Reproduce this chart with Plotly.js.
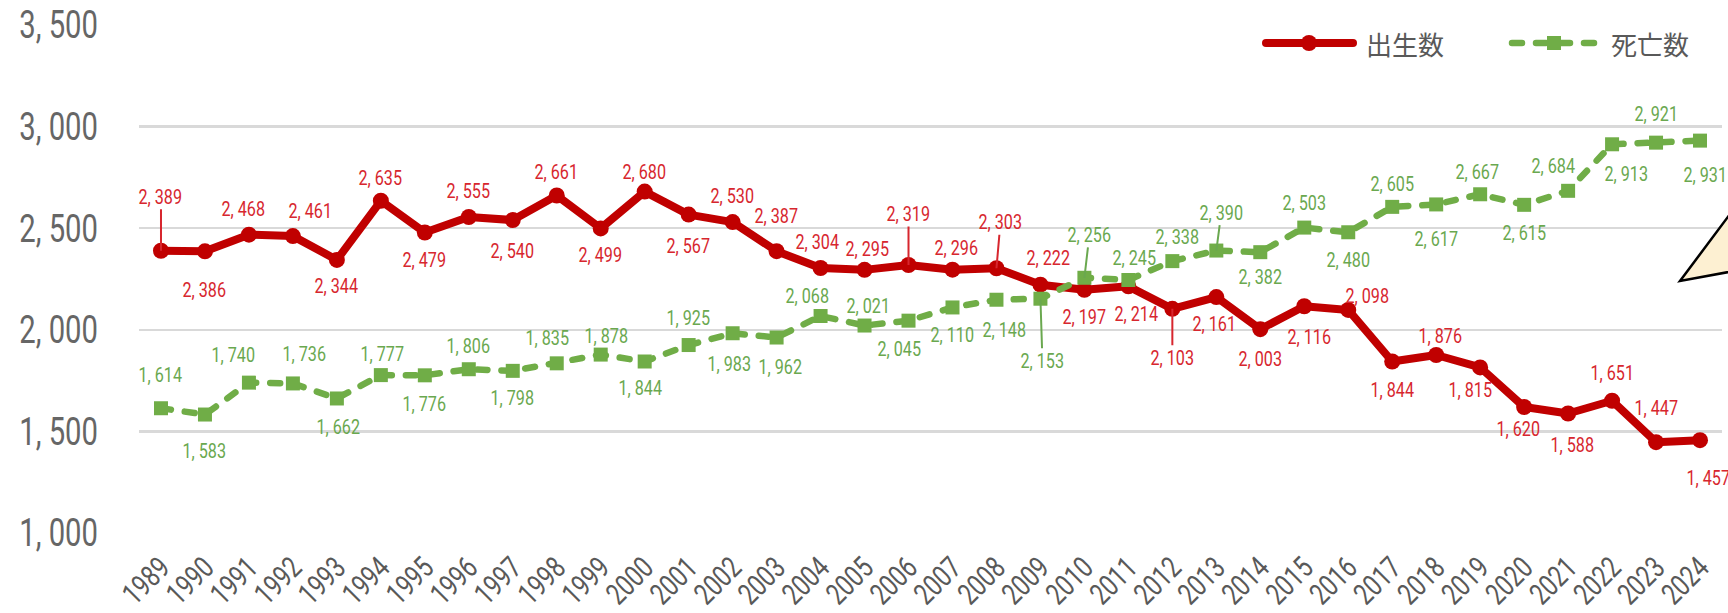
<!DOCTYPE html>
<html>
<head>
<meta charset="utf-8">
<script src="https://cdn.plot.ly/plotly-3.0.1.min.js"></script>
<style>
  html, body { margin: 0; padding: 0; background: #ffffff; }
  #chart { width: 1728px; height: 613px; }
  #chart .scatterlayer path.js-line { stroke-linejoin: round; stroke-linecap: round; }
  #chart .shapelayer path { stroke-linecap: round; }
</style>
</head>
<body>
<div id="chart"></div>
<script>
// ---- data ----
const years = ['1989','1990','1991','1992','1993','1994','1995','1996','1997','1998','1999','2000',
  '2001','2002','2003','2004','2005','2006','2007','2008','2009','2010','2011','2012','2013','2014',
  '2015','2016','2017','2018','2019','2020','2021','2022','2023','2024'];
const births = [2389,2386,2468,2461,2344,2635,2479,2555,2540,2661,2499,2680,
  2567,2530,2387,2304,2295,2319,2296,2303,2222,2197,2214,2103,2161,2003,
  2116,2098,1844,1876,1815,1620,1588,1651,1447,1457];
const deaths = [1614,1583,1740,1736,1662,1777,1776,1806,1798,1835,1878,1844,
  1925,1983,1962,2068,2021,2045,2110,2148,2153,2256,2245,2338,2390,2382,
  2503,2480,2605,2617,2667,2615,2684,2913,2921,2931];
const seriesNames = ['出生数', '死亡数'];
const yTickVals = [1000, 1500, 2000, 2500, 3000, 3500];
const yTickText = ['1, 000', '1, 500', '2, 000', '2, 500', '3, 000', '3, 500'];

// ---- label placement (pixel offsets from each point) ----
const birthDx = [0,0,-5,18,0,0,0,0,0,0,0,0, 0,0,0,-3,3,0,4,4,8,0,8,0,-2,0, 5,19,0,4,-10,-6,4,0,0,8];
const birthDy = [-54,39,-26,-25,26,-23,28,-26,31,-23,27,-20, 31,-26,-35,-26,-21,-51,-22,-46,-27,27,28,49,27,30, 31,-14,28,-19,23,22,31,-28,-34,38];
const birthLeader = ['1989','2006','2008','2012'];
const deathDx = [0,0,-15,12,2,2,0,0,0,-9,6,-4, 0,-3,4,-13,4,-9,0,8,2,5,6,5,5,0, 0,0,0,0,-3,0,-15,14,0,5];
const deathDy = [-33,36,-28,-29,29,-21,29,-23,27,-25,-19,26, -27,31,29,-20,-20,28,28,30,62,-43,-22,-24,-38,25, -25,28,-23,35,-22,28,-25,30,-29,34];
const deathLeader = ['2009','2010','2013'];

// ---- styles ----
const RED = '#c00000';
const RED_TXT = '#d7262e';
const GREEN = '#70ad47';
const GREEN_TXT = '#6aa84f';
const NUM_FONT = 'Roboto, "Liberation Sans", sans-serif';
const CJK_FONT = '"Noto Sans CJK JP", "Noto Sans", sans-serif';
const NARROW = 0.77;   // horizontal squeeze for the condensed number face
const GREEN_DASH = '10px,14px';

function fmt(v) {
  return v.toLocaleString('en-US').replace(',', ', ');
}

const traces = [
  {
    x: years, y: births, name: seriesNames[0], type: 'scatter', mode: 'lines+markers',
    line: { color: RED, width: 8 },
    marker: { symbol: 'circle', size: 16, color: RED },
    showlegend: false, hoverinfo: 'x+y'
  },
  {
    x: years, y: deaths, name: seriesNames[1], type: 'scatter', mode: 'lines+markers',
    line: { color: GREEN, width: 6.5, dash: GREEN_DASH },
    marker: { symbol: 'square', size: 14, color: GREEN },
    showlegend: false, hoverinfo: 'x+y'
  }
];

function makeLabels(values, dx, dy, leaders, color) {
  return values.map((v, i) => {
    const lead = leaders.indexOf(years[i]) >= 0;
    const base = {
      x: i, y: v, xref: 'x', yref: 'y',
      text: fmt(v),
      font: { family: NUM_FONT, size: 21, color: color },
      borderpad: 0, captureevents: false
    };
    if (lead) {
      return Object.assign(base, {
        showarrow: true, arrowhead: 0, arrowwidth: 2, arrowcolor: color,
        ax: dx[i], ay: dy[i], standoff: 0, startstandoff: 0
      });
    }
    return Object.assign(base, { showarrow: false, xshift: dx[i], yshift: -dy[i] });
  });
}

const annotations = []
  .concat(makeLabels(births, birthDx, birthDy, birthLeader, RED_TXT))
  .concat(makeLabels(deaths, deathDx, deathDy, deathLeader, GREEN_TXT));

// plot area in pixels: left 139, width 1583, top 25, height 508
const PL = 139, PW = 1583, PT = 25, PH = 508;
const px = v => (v - PL) / PW;
const py = v => (PT + PH - v) / PH;

// legend (drawn manually)
annotations.push({
  xref: 'paper', yref: 'paper', x: px(1364), y: py(43), xanchor: 'left', yanchor: 'middle',
  text: seriesNames[0], showarrow: false, font: { family: CJK_FONT, size: 26, color: '#595959' }
});
annotations.push({
  xref: 'paper', yref: 'paper', x: px(1609), y: py(43), xanchor: 'left', yanchor: 'middle',
  text: seriesNames[1], showarrow: false, font: { family: CJK_FONT, size: 26, color: '#595959' }
});

const shapes = [
  { type: 'line', xref: 'paper', yref: 'paper', x0: px(1266), x1: px(1353), y0: py(43), y1: py(43),
    line: { color: RED, width: 8 } },
  { type: 'circle', xref: 'paper', yref: 'paper', xsizemode: 'pixel', ysizemode: 'pixel',
    xanchor: px(1309), yanchor: py(43), x0: -8, x1: 8, y0: -8, y1: 8,
    fillcolor: RED, line: { width: 0 } },
  { type: 'line', xref: 'paper', yref: 'paper', x0: px(1512), x1: px(1597), y0: py(43), y1: py(43),
    line: { color: GREEN, width: 6.5, dash: GREEN_DASH } },
  { type: 'rect', xref: 'paper', yref: 'paper', xsizemode: 'pixel', ysizemode: 'pixel',
    xanchor: px(1554), yanchor: py(43), x0: -7, x1: 7, y0: -7, y1: 7,
    fillcolor: GREEN, line: { width: 0 } },
  // callout tail at the right edge
  { type: 'path', xref: 'paper', yref: 'paper',
    path: 'M ' + px(1680) + ' ' + py(281) + ' L ' + px(1745) + ' ' + py(194) +
          ' L ' + px(1745) + ' ' + py(269) + ' Z',
    fillcolor: '#fdf0d2', line: { color: '#000000', width: 2.5 } }
];

const layout = {
  width: 1728, height: 613,
  margin: { l: PL, r: 1728 - PL - PW, t: PT, b: 613 - PT - PH, pad: 0 },
  paper_bgcolor: '#ffffff', plot_bgcolor: '#ffffff',
  showlegend: false,
  xaxis: {
    type: 'category', range: [-0.5, years.length - 0.5],
    showgrid: false, zeroline: false, showline: false,
    ticks: '', tickangle: -45,
    tickfont: { family: NUM_FONT, size: 30, color: '#595959' },
    ticklabelstandoff: 10, fixedrange: true
  },
  yaxis: {
    range: [1000, 3500], tickmode: 'array', tickvals: yTickVals, ticktext: yTickText,
    showgrid: true, gridcolor: '#d9d9d9', gridwidth: 2.5,
    zeroline: false, showline: false, ticks: '',
    tickfont: { family: NUM_FONT, size: 38, color: '#666666' },
    ticklabelstandoff: 40, fixedrange: true
  },
  annotations: annotations,
  shapes: shapes
};

function squeeze(el, f) {
  const w = el.getComputedTextLength();
  if (w > 0) {
    el.setAttribute('textLength', (w * f).toFixed(2));
    el.setAttribute('lengthAdjust', 'spacingAndGlyphs');
  }
}

Plotly.newPlot('chart', traces, layout, { displayModeBar: false, staticPlot: true }).then(gd => {
  gd.querySelectorAll('.xtick text, .ytick text').forEach(t => squeeze(t, NARROW));
  gd.querySelectorAll('.annotation-text').forEach(t => {
    if (/^[0-9, ]+$/.test(t.textContent)) squeeze(t, NARROW);
  });
});
</script>
</body>
</html>
